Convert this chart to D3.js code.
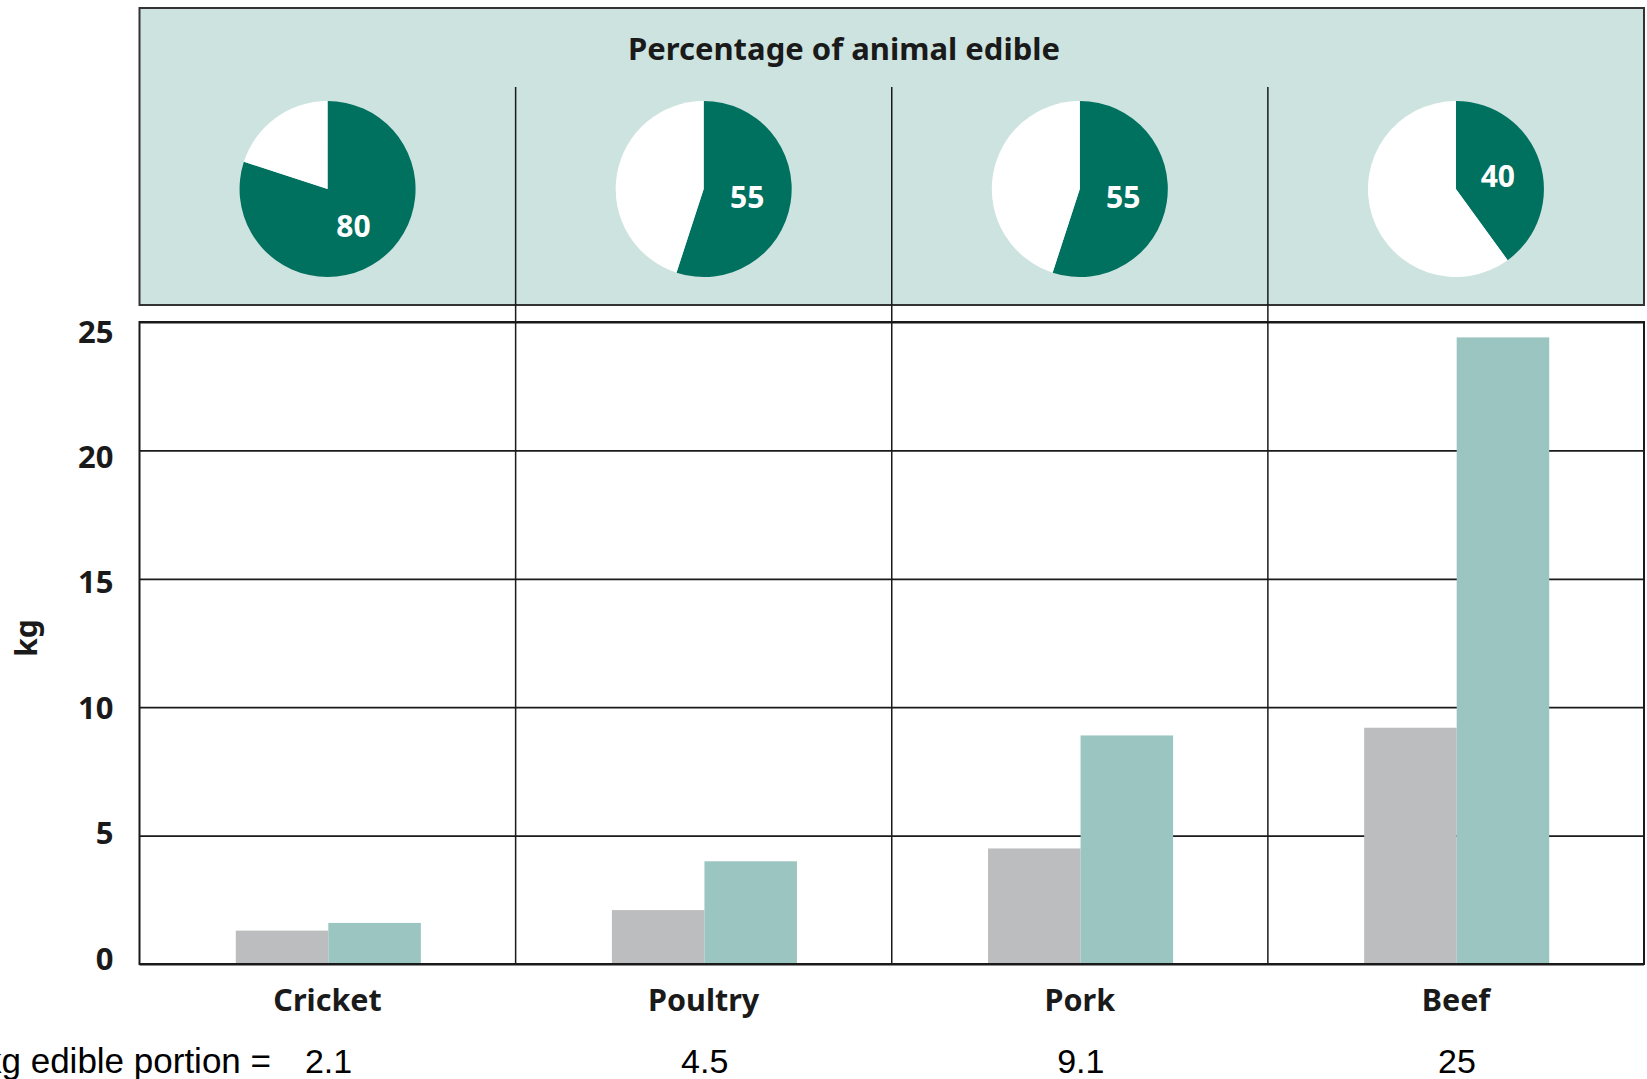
<!DOCTYPE html>
<html>
<head>
<meta charset="utf-8">
<script src="https://cdn.jsdelivr.net/npm/d3@7"></script>
<style>
	body { margin: 0; background: #ffffff; }
	svg { display: block; }
</style>
</head>
<body>
<svg id="chart" width="1647" height="1079"></svg>
<script>
// Chart values
const categories = ["Cricket", "Poultry", "Pork", "Beef"];
const ediblePercent = [80, 55, 55, 40];
const liveWeightKg = [1.3, 2.1, 4.5, 9.2];
const edibleWeightKg = [1.6, 4.0, 8.9, 24.4];
const edibleLabels = ["2.1", "4.5", "9.1", "25"];
const yTicks = [0, 5, 10, 15, 20, 25];
const seriesNames = ["live", "edible"];

const boldFont = "'Noto Sans', 'Open Sans', sans-serif";

const svg = d3.select("#chart");

// Plot area
const plotLeft = 139.5, plotRight = 1644, plotTop = 322, plotBottom = 964;

const x = d3.scaleBand()
	.domain(categories)
	.range([plotLeft, plotRight]);

const x1 = d3.scaleBand()
	.domain(seriesNames)
	.range([x.bandwidth() * 0.256, x.bandwidth() * 0.748]);

const y = d3.scaleLinear()
	.domain([0, 25])
	.range([plotBottom, plotTop]);

// tick labels in the original sit on a slightly tighter scale than the grid
const yLabel = d3.scaleLinear()
	.domain([0, 25])
	.range([plotBottom - 6, plotTop + 9]);

const colors = { live: "#bcbdbf", edible: "#9bc5c0" };

// Top panel with the pies
svg.append("rect")
	.attr("x", plotLeft)
	.attr("y", 8)
	.attr("width", plotRight - plotLeft)
	.attr("height", 297)
	.attr("fill", "#cde3df")
	.attr("stroke", "#333")
	.attr("stroke-width", 2);

svg.append("text")
	.attr("x", 844)
	.attr("y", 60)
	.attr("text-anchor", "middle")
	.attr("font-family", boldFont)
	.attr("font-weight", "bold")
	.attr("font-size", "31px")
	.attr("fill", "#1a1a1a")
	.text("Percentage of animal edible");

// Plot background and grid
svg.append("rect")
	.attr("x", plotLeft)
	.attr("y", plotTop)
	.attr("width", plotRight - plotLeft)
	.attr("height", plotBottom - plotTop)
	.attr("fill", "#ffffff");

const yAxis = svg.append("g")
	.attr("transform", `translate(${plotLeft},0)`)
	.call(d3.axisLeft(y)
		.tickValues(yTicks)
		.tickSize(-(plotRight - plotLeft))
		.tickPadding(26)
		.tickFormat(d3.format("d")));

yAxis.select(".domain").remove();
yAxis.selectAll(".tick line")
	.attr("stroke", "#1a1a1a")
	.attr("stroke-width", 1.8);
yAxis.selectAll(".tick text")
	.attr("font-family", boldFont)
	.attr("font-weight", "bold")
	.attr("font-size", "31px")
	.attr("fill", "#1a1a1a")
	.attr("y", d => yLabel(d) - y(d))
	.attr("dy", "0.36em");

svg.append("text")
	.attr("transform", "translate(37,638) rotate(-90)")
	.attr("text-anchor", "middle")
	.attr("font-family", boldFont)
	.attr("font-weight", "bold")
	.attr("font-size", "30px")
	.attr("fill", "#1a1a1a")
	.text("kg");

// Bars
const rows = categories.map((c, i) => ({
	category: c,
	values: [
		{ key: "live", value: liveWeightKg[i] },
		{ key: "edible", value: edibleWeightKg[i] }
	]
}));

svg.append("g")
	.selectAll("g")
	.data(rows)
	.join("g")
	.attr("transform", d => `translate(${x(d.category)},0)`)
	.selectAll("rect")
	.data(d => d.values)
	.join("rect")
	.attr("x", d => x1(d.key))
	.attr("y", d => y(d.value))
	.attr("width", x1.bandwidth())
	.attr("height", d => y(0) - y(d.value))
	.attr("fill", d => colors[d.key]);

// Plot border
svg.append("rect")
	.attr("x", plotLeft)
	.attr("y", plotTop)
	.attr("width", plotRight - plotLeft)
	.attr("height", plotBottom - plotTop)
	.attr("fill", "none")
	.attr("stroke", "#1a1a1a")
	.attr("stroke-width", 2);

// Column dividers run from the pie panel down to the baseline
svg.append("g")
	.selectAll("line")
	.data(categories.slice(1))
	.join("line")
	.attr("x1", d => x(d))
	.attr("x2", d => x(d))
	.attr("y1", 87)
	.attr("y2", plotBottom)
	.attr("stroke", "#1a1a1a")
	.attr("stroke-width", 1.5);

// Pies
const radius = 88;
const pie = d3.pie().sort(null).value(d => d);
const arc = d3.arc().innerRadius(0).outerRadius(radius);
const labelArc = d3.arc().innerRadius(radius * 0.5).outerRadius(radius * 0.5);

const pies = svg.append("g")
	.selectAll("g")
	.data(categories.map((c, i) => ({ category: c, pct: ediblePercent[i] })))
	.join("g")
	.attr("transform", d => `translate(${x(d.category) + x.bandwidth() / 2},189)`);

pies.selectAll("path")
	.data(d => pie([d.pct, 100 - d.pct]))
	.join("path")
	.attr("d", arc)
	.attr("fill", (d, i) => i === 0 ? "#00705f" : "#ffffff");

pies.append("text")
	.attr("transform", d => `translate(${labelArc.centroid(pie([d.pct, 100 - d.pct])[0])})`)
	.attr("text-anchor", "middle")
	.attr("dy", "0.4em")
	.attr("font-family", boldFont)
	.attr("font-weight", "bold")
	.attr("font-size", "30px")
	.attr("fill", "#ffffff")
	.text(d => d.pct);

// Category labels
svg.append("g")
	.selectAll("text")
	.data(categories)
	.join("text")
	.attr("x", d => x(d) + x.bandwidth() / 2)
	.attr("y", 1011)
	.attr("text-anchor", "middle")
	.attr("font-family", boldFont)
	.attr("font-weight", "bold")
	.attr("font-size", "30.5px")
	.attr("fill", "#1a1a1a")
	.text(d => d);

// Bottom row: kg of feed per kg edible portion
svg.append("text")
	.attr("x", 271)
	.attr("y", 1073)
	.attr("text-anchor", "end")
	.attr("font-family", "'Liberation Sans', Arial, sans-serif")
	.attr("font-size", "35px")
	.attr("fill", "#000")
	.text("kg edible portion =");

svg.append("g")
	.selectAll("text")
	.data(categories)
	.join("text")
	.attr("x", d => x(d) + x.bandwidth() / 2 + 1)
	.attr("y", 1073)
	.attr("text-anchor", "middle")
	.attr("font-family", "'Liberation Sans', Arial, sans-serif")
	.attr("font-size", "34px")
	.attr("fill", "#000")
	.text((d, i) => edibleLabels[i]);
</script>
</body>
</html>
